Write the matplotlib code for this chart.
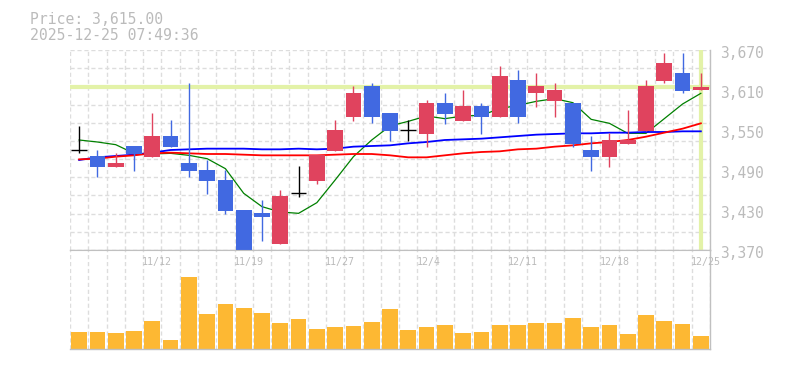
import matplotlib.pyplot as plt
from matplotlib.transforms import offset_copy

# daily prices, 11/6 .. 12/25
dates = ["11/6", "11/7", "11/10", "11/11", "11/12", "11/13", "11/14", "11/17",
         "11/18", "11/19", "11/20", "11/21", "11/25", "11/26", "11/27", "11/28",
         "12/1", "12/2", "12/3", "12/4", "12/5", "12/8", "12/9", "12/10",
         "12/11", "12/12", "12/15", "12/16", "12/17", "12/18", "12/19", "12/22",
         "12/23", "12/24", "12/25"]
opens = [3520, 3511, 3495, 3526, 3510, 3541, 3500, 3490, 3475, 3430, 3426, 3379,
         3455, 3474, 3519, 3570, 3616, 3576, 3550, 3544, 3591, 3564, 3586, 3570,
         3625, 3605, 3594, 3591, 3520, 3510, 3529, 3549, 3624, 3636, 3610]
highs = [3556, 3520, 3515, 3526, 3576, 3565, 3620, 3505, 3490, 3430, 3445, 3460,
         3496, 3512, 3565, 3616, 3621, 3576, 3565, 3595, 3606, 3610, 3591, 3646,
         3640, 3636, 3620, 3591, 3541, 3546, 3580, 3625, 3666, 3666, 3636]
lows = [3515, 3480, 3495, 3489, 3510, 3525, 3480, 3454, 3424, 3370, 3384, 3379,
        3450, 3469, 3519, 3564, 3560, 3534, 3534, 3525, 3559, 3564, 3544, 3570,
        3560, 3585, 3570, 3525, 3489, 3495, 3529, 3549, 3620, 3605, 3610]
closes = [3520, 3495, 3500, 3514, 3541, 3525, 3489, 3474, 3429, 3370, 3420, 3451,
          3455, 3512, 3550, 3606, 3570, 3549, 3550, 3591, 3574, 3586, 3570, 3631,
          3570, 3616, 3610, 3529, 3510, 3535, 3535, 3616, 3651, 3609, 3615]
volume = [166, 166, 156, 183, 276, 93, 716, 346, 446, 406, 356, 256, 296, 196,
          216, 226, 266, 396, 193, 216, 236, 156, 166, 236, 236, 256, 256, 306,
          216, 236, 146, 336, 276, 246, 126]

ma_short = [3535, 3532, 3528, 3515, 3514, 3515, 3512, 3507, 3492, 3455, 3435, 3427,
            3425, 3441, 3475, 3510, 3535, 3556, 3563, 3571, 3567, 3571, 3572, 3582,
            3587, 3593, 3597, 3591, 3566, 3560, 3545, 3545, 3567, 3589, 3605]
ma_mid = [3505, 3509, 3511, 3513, 3516, 3520, 3521, 3522, 3522, 3522, 3521, 3521,
          3522, 3521, 3522, 3525, 3526, 3527, 3530, 3532, 3535, 3536, 3537, 3539,
          3541, 3543, 3544, 3545, 3545, 3546, 3546, 3547, 3547, 3548, 3548]
ma_long = [3506, 3507, 3510, 3512, 3515, 3516, 3515, 3514, 3514, 3513, 3512, 3512,
           3512, 3512, 3513, 3514, 3514, 3512, 3509, 3509, 3512, 3515, 3517, 3518,
           3521, 3522, 3525, 3527, 3530, 3532, 3535, 3540, 3546, 3552, 3560]

price_ticks = [3370, 3430, 3490, 3550, 3610, 3670]
last_price = 3615.00
stamp = "2025-12-25 07:49:36"

UP = "#e0435e"
DOWN = "#4169e1"
GRID = "#dddddd"
FRAME = "#c0c0c0"
TEXT = "#bbbbbb"
MONO = "DejaVu Sans Mono"

fig = plt.figure(figsize=(7.85, 3.70), dpi=100)
ax = fig.add_axes([70 / 785, 1 - 250 / 370, 640 / 785, 200 / 370])
axv = fig.add_axes([70 / 785, 1 - 349 / 370, 640 / 785, 99 / 370])

n = len(closes)
xs = list(range(n))
ymin, ymax = 3370, 3670

for a in (ax, axv):
    a.set_xlim(-0.5, n - 0.5)
    for k in range(n + 1):
        a.axvline(k - 0.5, color=GRID, lw=1, ls=(0, (3, 2)), zorder=0)
    a.set_xticks([])
    a.set_yticks([])
    for s in ("left", "top"):
        a.spines[s].set_visible(False)
    for s in ("right", "bottom"):
        a.spines[s].set_color(FRAME)
        a.spines[s].set_linewidth(1)
axv.spines["top"].set_visible(True)
axv.spines["top"].set_color(FRAME)

ax.set_ylim(ymin, ymax)
for k in range(12):
    ax.axhline(ymin + (ymax - ymin) * k / 11, color=GRID, lw=1, ls=(0, (3, 2)), zorder=0)

# last price marker lines
ax.axhline(last_price, color="#e3f2a8", lw=3, zorder=1)
ax.axvline(n - 1, color="#e3f2a8", lw=3, zorder=1)

# moving averages (under the candles)
ax.plot(xs, ma_short, color="#008000", lw=0.9, zorder=2)
ax.plot(xs, ma_mid, color="#0000ff", lw=1.3, zorder=2)
ax.plot(xs, ma_long, color="#ff0000", lw=1.3, zorder=2)

# candles
w = 0.86
for i in xs:
    o, h, l, c = opens[i], highs[i], lows[i], closes[i]
    if o == c:
        ax.vlines(i, l, h, color="black", lw=1, zorder=3)
        ax.hlines(c, i - w / 2, i + w / 2, color="black", lw=1, zorder=3)
        continue
    col = UP if c > o else DOWN
    ax.vlines(i, l, h, color=col, lw=1, zorder=3)
    ax.bar(i, abs(c - o), bottom=min(o, c), width=w, color=col, lw=0, zorder=4)

# volume
axv.set_ylim(0, 990)
axv.bar(xs, volume, width=w, color="#fdb833", lw=0, zorder=2)

# date labels
for i in range(4, n, 5):
    axv.text(i - 0.55, 1, dates[i], transform=offset_copy(axv.get_xaxis_transform(), fig, y=-7, units="dots"),
             ha="left", va="top", fontsize=7.2, color=TEXT, family=MONO)

# price labels on the right
for p in price_ticks:
    ax.annotate(f"{p:,}", xy=(1, p), xycoords=ax.get_yaxis_transform(),
                xytext=(7, -2.5), textcoords="offset points",
                ha="left", va="center", fontsize=10.5, color=TEXT, family=MONO)

fig.text(30 / 785, 1 - 12 / 370, f"Price: {last_price:,.2f}", ha="left", va="top",
         fontsize=10.6, color=TEXT, family=MONO)
fig.text(30 / 785, 1 - 28 / 370, stamp, ha="left", va="top",
         fontsize=10.6, color=TEXT, family=MONO)

fig.savefig("out.png", dpi=100)
